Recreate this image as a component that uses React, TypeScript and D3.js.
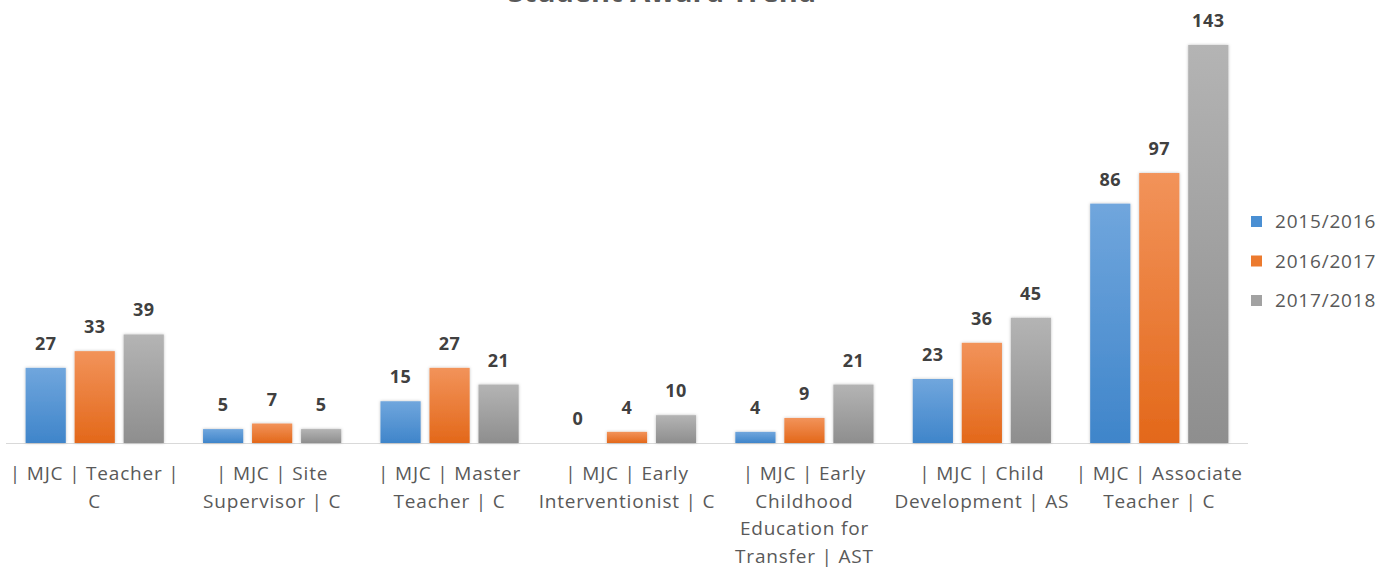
import { useEffect, useRef } from 'react'
import * as d3 from 'd3'

// ─── Data ─────────────────────────────────────────────────────────────────────

const categories = [
  '| MJC | Teacher | C',
  '| MJC | Site Supervisor | C',
  '| MJC | Master Teacher | C',
  '| MJC | Early Interventionist | C',
  '| MJC | Early Childhood Education for Transfer | AST',
  '| MJC | Child Development | AS',
  '| MJC | Associate Teacher | C',
]

// wrapped tick labels, as Excel broke them
const categoryLines = [
  ['| MJC | Teacher |', 'C'],
  ['| MJC | Site', 'Supervisor | C'],
  ['| MJC | Master', 'Teacher | C'],
  ['| MJC | Early', 'Interventionist | C'],
  ['| MJC | Early', 'Childhood', 'Education for', 'Transfer | AST'],
  ['| MJC | Child', 'Development | AS'],
  ['| MJC | Associate', 'Teacher | C'],
]

const seriesNames = ['2015/2016', '2016/2017', '2017/2018']

const values2015 = [27, 5, 15, 0, 4, 23, 86]
const values2016 = [33, 7, 27, 4, 9, 36, 97]
const values2017 = [39, 5, 21, 10, 21, 45, 143]

const seriesValues = [values2015, values2016, values2017]

const colors = [
  { top: '#70a6dd', bottom: '#3f85ca', flat: '#4a8fd3' },
  { top: '#f2935a', bottom: '#e3681a', flat: '#ec7a2e' },
  { top: '#b4b4b4', bottom: '#8e8e8e', flat: '#a2a2a2' },
]

// ─── Layout ───────────────────────────────────────────────────────────────────

const W = 1392
const H = 568
const PLOT = { left: 6, right: 1248, top: 45, bottom: 443 }
const FONT = '"Open Sans", Lato, sans-serif'

export default function App() {
  const svgRef = useRef<SVGSVGElement>(null)

  useEffect(() => {
    if (!svgRef.current) return
    const svg = d3.select(svgRef.current)
    svg.selectAll('*').remove()

    const defs = svg.append('defs')
    colors.forEach((c, i) => {
      const lg = defs.append('linearGradient')
        .attr('id', `grad${i}`)
        .attr('x1', 0).attr('y1', 0).attr('x2', 0).attr('y2', 1)
      lg.append('stop').attr('offset', '0%').attr('stop-color', c.top)
      lg.append('stop').attr('offset', '100%').attr('stop-color', c.bottom)
    })
    const filt = defs.append('filter').attr('id', 'shadow')
      .attr('x', '-20%').attr('y', '-20%').attr('width', '140%').attr('height', '140%')
    filt.append('feDropShadow')
      .attr('dx', 0).attr('dy', 0).attr('stdDeviation', 1.5)
      .attr('flood-color', '#000').attr('flood-opacity', 0.25)

    const x0 = d3.scaleBand<string>()
      .domain(categories)
      .range([PLOT.left, PLOT.right])

    const x1 = d3.scaleBand<string>()
      .domain(seriesNames)
      .range([0, x0.bandwidth()])
      .paddingInner(0.18)
      .paddingOuter(0.4)

    const y = d3.scaleLinear().domain([0, 143]).range([PLOT.bottom, PLOT.top])

    // Title (cut off at top in the original)
    svg.append('text')
      .attr('x', 662).attr('y', 2)
      .attr('text-anchor', 'middle')
      .attr('font-family', FONT)
      .attr('font-size', 29)
      .attr('font-weight', 700)
      .attr('fill', '#595959')
      .text('Student Award Trend')

    // Axis line
    svg.append('line')
      .attr('x1', PLOT.left).attr('x2', PLOT.right)
      .attr('y1', PLOT.bottom + 0.5).attr('y2', PLOT.bottom + 0.5)
      .attr('stroke', '#d9d9d9').attr('stroke-width', 1.2)

    // Bars
    const groups = svg.append('g')
      .selectAll('g')
      .data(categories)
      .join('g')
      .attr('transform', (d) => `translate(${x0(d)},0)`)

    seriesNames.forEach((s, si) => {
      groups.append('rect')
        .attr('x', x1(s)!)
        .attr('y', (_, ci) => y(seriesValues[si][ci]))
        .attr('width', x1.bandwidth())
        .attr('height', (_, ci) => PLOT.bottom - y(seriesValues[si][ci]))
        .attr('fill', `url(#grad${si})`)
        .attr('filter', 'url(#shadow)')

      groups.append('text')
        .attr('x', x1(s)! + x1.bandwidth() / 2)
        .attr('y', (_, ci) => y(seriesValues[si][ci]) - 18)
        .attr('text-anchor', 'middle')
        .attr('font-family', FONT)
        .attr('font-size', 18)
        .attr('font-weight', 700)
        .attr('letter-spacing', 0.5)
        .attr('fill', '#404040')
        .text((_, ci) => String(seriesValues[si][ci]))
    })

    // Category labels
    groups.append('text')
      .attr('text-anchor', 'middle')
      .attr('font-family', FONT)
      .attr('font-size', 19)
      .attr('letter-spacing', 0.8)
      .attr('fill', '#595959')
      .each(function (_, ci) {
        const t = d3.select(this)
        categoryLines[ci].forEach((line, li) => {
          t.append('tspan')
            .attr('x', x0.bandwidth() / 2)
            .attr('y', 480 + li * 27.5)
            .text(line)
        })
      })

    // Legend
    const legend = svg.append('g')
    seriesNames.forEach((s, i) => {
      const ly = 221 + i * 39.5
      legend.append('rect')
        .attr('x', 1251).attr('y', ly - 5)
        .attr('width', 11).attr('height', 11)
        .attr('fill', colors[i].flat)
      legend.append('text')
        .attr('x', 1275).attr('y', ly + 7)
        .attr('font-family', FONT)
        .attr('font-size', 19)
        .attr('letter-spacing', 0.8)
        .attr('fill', '#595959')
        .text(s)
    })
  }, [])

  return (
    <div style={{ position: 'absolute', left: 0, top: 0 }}>
      <svg ref={svgRef} width={W} height={H} style={{ display: 'block', background: '#fff' }} />
    </div>
  )
}
